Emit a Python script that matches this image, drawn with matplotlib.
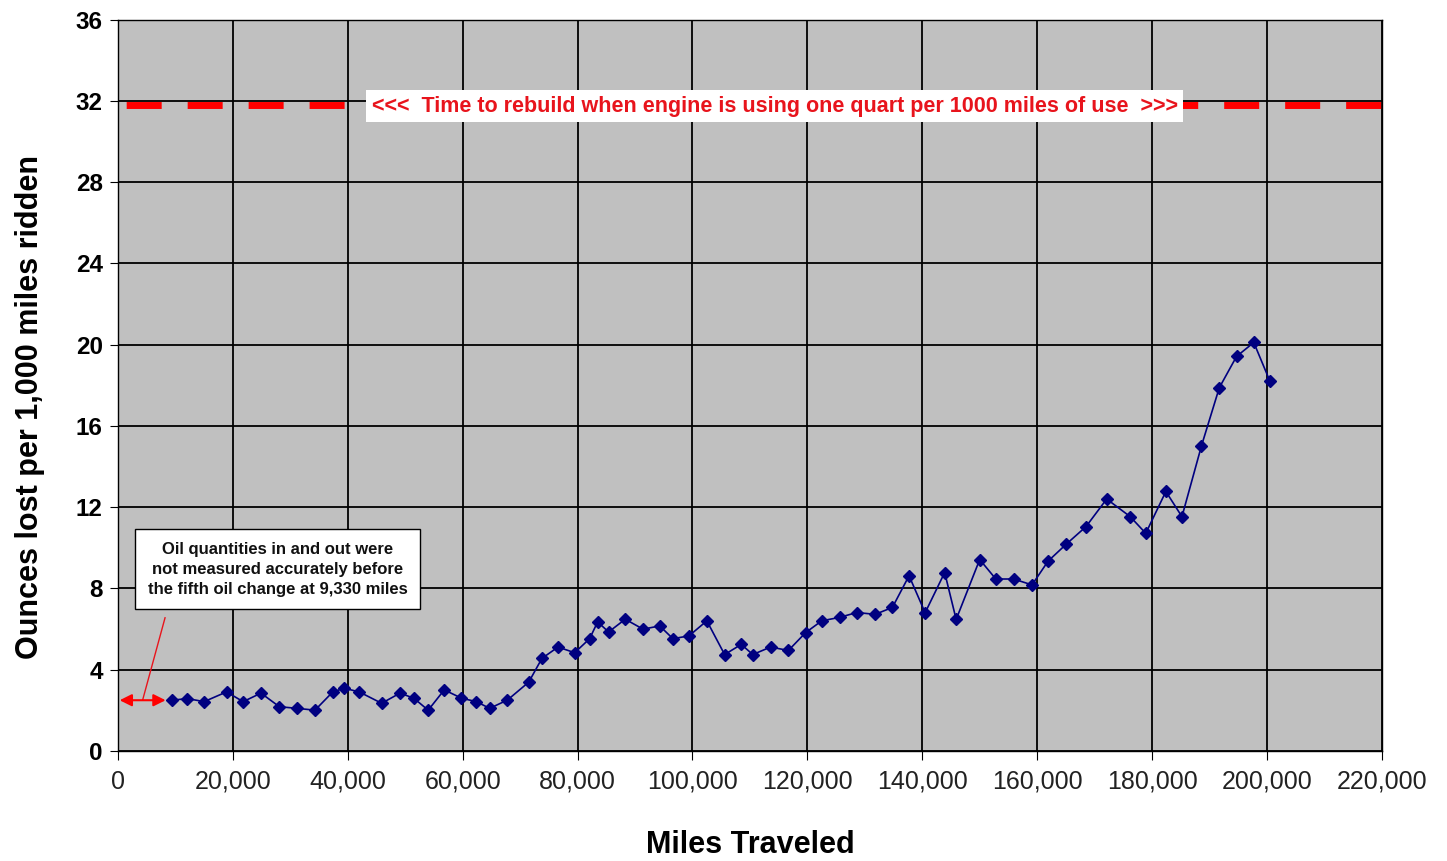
import matplotlib
matplotlib.use('Agg')
import matplotlib.pyplot as plt
from matplotlib.ticker import FuncFormatter

plt.rcParams['font.family'] = ['Liberation Sans', 'DejaVu Sans']
plt.rcParams['lines.scale_dashes'] = False

# Oil use per 1,000 miles
miles = [9330, 12100, 15000, 18900, 21800, 24900, 28100, 31200, 34300, 37400,
         39400, 42000, 45900, 49100, 51500, 54000, 56800, 59800, 62400, 64700,
         67800, 71500, 73800, 76600, 79500, 82100, 83500, 85400, 88300, 91400,
         94300, 96600, 99400, 102500, 105600, 108500, 110500, 113600, 116700,
         119700, 122500, 125600, 128600, 131800, 134800, 137700, 140500, 143900,
         145900, 150000, 152800, 155900, 159100, 161900, 165000, 168500, 172100,
         176200, 178900, 182400, 185200, 188600, 191700, 194700, 197700, 200500]
ounces = [2.49, 2.57, 2.42, 2.90, 2.42, 2.84, 2.17, 2.09, 2.0, 2.90,
          3.08, 2.90, 2.34, 2.84, 2.59, 2.0, 3.0, 2.59, 2.42, 2.09,
          2.50, 3.38, 4.55, 5.11, 4.83, 5.52, 6.35, 5.85, 6.48, 5.99,
          6.15, 5.52, 5.66, 6.40, 4.74, 5.24, 4.74, 5.11, 4.94,
          5.82, 6.40, 6.57, 6.81, 6.72, 7.06, 8.62, 6.80, 8.78,
          6.47, 9.42, 8.46, 8.46, 8.17, 9.34, 10.16, 11.04, 12.40,
          11.53, 10.71, 12.77, 11.53, 15.02, 17.88, 19.42, 20.11, 18.21]

rebuild_x = [0, 220000]
rebuild_y = [31.8, 31.8]

x_ticks = list(range(0, 220001, 20000))
y_ticks = list(range(0, 37, 4))

fig = plt.figure(figsize=(14.47, 8.61), dpi=100)
ax = fig.add_axes([0.0815, 0.128, 0.8735, 0.849])
ax.set_facecolor('#c0c0c0')

ax.set_xlim(0, 220000)
ax.set_ylim(0, 36)
ax.set_xticks(x_ticks)
ax.set_yticks(y_ticks)
ax.xaxis.set_major_formatter(FuncFormatter(lambda v, p: '{:,.0f}'.format(v)))
ax.grid(True, color='black', linewidth=1.3)
ax.set_axisbelow(True)
for s in ax.spines.values():
    s.set_color('black')
    s.set_linewidth(1.0)

ax.tick_params(axis='x', labelsize=18, length=6.5, colors='black',
               labelcolor='#222222', pad=7)
ax.tick_params(axis='y', labelsize=17.5, length=6, colors='black', pad=5)
for lab in ax.get_yticklabels():
    lab.set_fontweight('bold')

# rebuild threshold
ax.plot(rebuild_x, rebuild_y, color='#ff0000', linewidth=5,
        linestyle=(38, (25.2, 18.7)), solid_capstyle='butt',
        dash_capstyle='butt', zorder=3)
ax.text(114300, 31.75,
        '<<<  Time to rebuild when engine is using one quart per 1000 miles of use  >>>',
        color='#e8141c', fontsize=15.5, fontweight='bold', ha='center', va='center',
        bbox=dict(facecolor='white', edgecolor='none', pad=4), zorder=4)

# data series
ax.plot(miles, ounces, color='#000080', linewidth=1.2, marker='D',
        markersize=6, markerfacecolor='#000080', markeredgecolor='#000080',
        zorder=5)

# note on early data
ax.text(27800, 8.95,
        'Oil quantities in and out were\nnot measured accurately before\nthe fifth oil change at 9,330 miles',
        fontsize=12, fontweight='bold', ha='center', va='center',
        linespacing=1.42, color='#111111',
        bbox=dict(facecolor='white', edgecolor='black', linewidth=1,
                  boxstyle='square,pad=0.75'), zorder=6)
ax.plot([8200, 4300], [6.55, 2.5], color='#e8141c', linewidth=1, zorder=6)
ax.annotate('', xy=(300, 2.49), xytext=(8300, 2.49),
            arrowprops=dict(arrowstyle='<|-|>', color='#ff0000', lw=1.5,
                            mutation_scale=18, shrinkA=0, shrinkB=0),
            zorder=6)

ax.set_xlabel('Miles Traveled', fontsize=22, fontweight='bold')
ax.xaxis.set_label_coords(0.5, -0.108)
ax.set_ylabel('Ounces lost per 1,000 miles ridden', fontsize=22,
              fontweight='bold')
ax.yaxis.set_label_coords(-0.058, 0.47)

fig.savefig('out.png', dpi=100)
